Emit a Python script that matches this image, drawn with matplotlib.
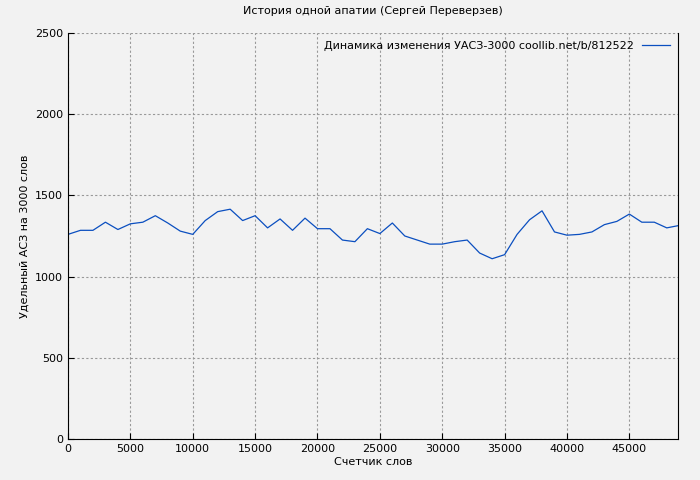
import matplotlib
matplotlib.use("Agg")
import matplotlib.pyplot as plt

words = list(range(0, 50000, 1000))
values = [1260,1285,1285,1335,1290,1325,1335,1375,1330,1280,
          1260,1345,1400,1415,1345,1375,1300,1355,1285,1360,
          1295,1295,1225,1215,1295,1265,1330,1250,1225,1200,
          1200,1215,1225,1145,1110,1135,1260,1350,1405,1275,
          1255,1260,1275,1320,1340,1385,1335,1335,1300,1315]

fig = plt.figure(figsize=(7, 4.8), dpi=100, facecolor="#f2f2f2")
ax = fig.add_axes([68/700, 41/480, 610/700, 406/480])
ax.set_facecolor("#f2f2f2")
ax.plot(words, values, color="#0b4fc0", lw=0.9, label="Динамика изменения УАСЗ-3000 coollib.net/b/812522")
ax.set_xlim(0, 48900)
ax.set_ylim(0, 2500)
ax.set_xticks(range(0, 48000, 5000))
ax.set_yticks(range(0, 2501, 500))
ax.grid(True, color="#999999", ls=(0, (2, 2)), lw=0.8)
for s in ["top", "right"]:
    ax.spines[s].set_visible(False)
ax.spines["right"].set_visible(True)
ax.tick_params(labelsize=8, direction="in", length=4)
ax.set_xlabel("Счетчик слов", fontsize=8, labelpad=2)
ax.set_ylabel("Удельный АСЗ на 3000 слов", fontsize=8)
ax.set_title("История одной апатии (Сергей Переверзев)", fontsize=8, pad=14)
leg = ax.legend(loc="upper right", fontsize=8, frameon=False, markerfirst=False, handlelength=2.5, borderaxespad=0.3)
fig.savefig("out.png", facecolor=fig.get_facecolor())
